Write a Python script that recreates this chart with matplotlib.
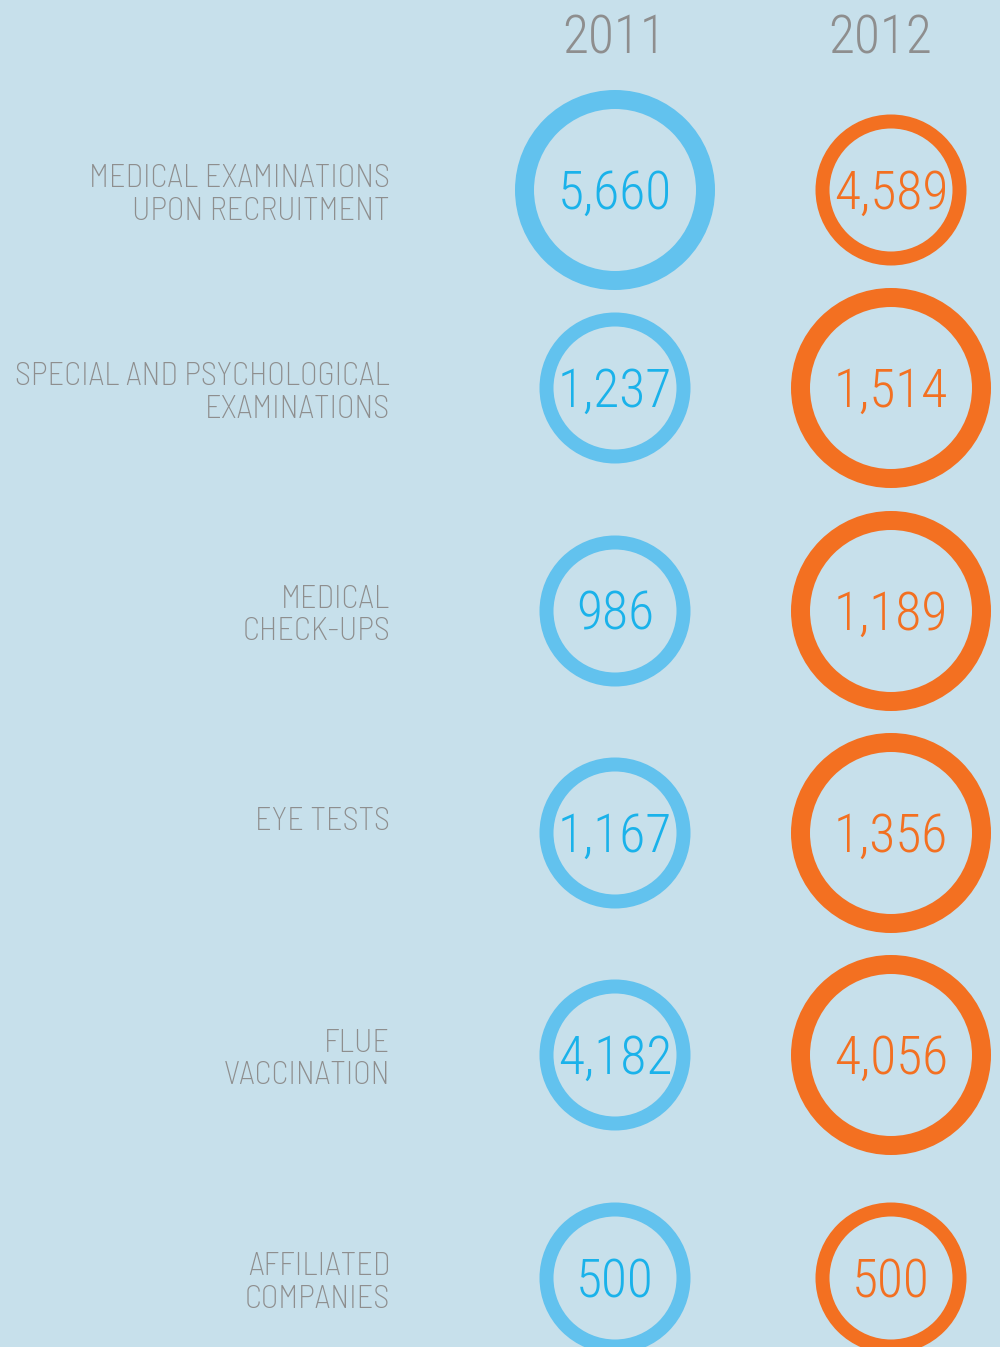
#!/usr/bin/env python3
import matplotlib
matplotlib.use('Agg')
from matplotlib import pyplot as plt
from matplotlib.patches import Circle

# number of cases per category, two years side by side
years = ['2011', '2012']
categories = [
    'MEDICAL EXAMINATIONS\nUPON RECRUITMENT',
    'SPECIAL AND PSYCHOLOGICAL\nEXAMINATIONS',
    'MEDICAL\nCHECK-UPS',
    'EYE TESTS',
    'FLUE\nVACCINATION',
    'AFFILIATED\nCOMPANIES',
]
values_2011 = [5660, 1237, 986, 1167, 4182, 500]
values_2012 = [4589, 1514, 1189, 1356, 4056, 500]
# which circles are drawn in the large size
big_2011 = [True, False, False, False, False, False]
big_2012 = [False, True, True, True, True, False]

BG = '#c7e0eb'
GREY = '#8e8e8e'
RING = {'2011': '#62c2ee', '2012': '#f37021'}
NUM = {'2011': '#1ab2ea', '2012': '#f37021'}
LABEL_FONT = 'Barlow Semi Condensed'
NUM_FONT = 'Roboto Condensed'

fig = plt.figure(figsize=(10, 13.47), dpi=100, facecolor=BG)
ax = fig.add_axes([0, 0, 1, 1])
ax.set_facecolor(BG)
ax.set_xlim(0, 1000)
ax.set_ylim(1347, 0)
ax.set_aspect('equal')
ax.axis('off')

col_x = {'2011': 615, '2012': 891}
year_x = {'2011': 614, '2012': 880}
row_y = [190, 388, 611, 833, 1055, 1278]

for yr in years:
    ax.text(year_x[yr], 53, yr, ha='center', va='baseline', color=GREY,
            family=NUM_FONT, weight=300, fontsize=38.5)

for i, cat in enumerate(categories):
    cy = row_y[i]
    for k, line in enumerate(cat.split('\n')):
        ax.text(390, cy - 3 + 32.5 * k, line, ha='right', va='baseline',
                color=GREY, family=LABEL_FONT, weight=275, fontsize=23.4)

    for yr, vals, big in (('2011', values_2011, big_2011),
                          ('2012', values_2012, big_2012)):
        cx = col_x[yr]
        if big[i]:
            r, lw = 90.5, 19
        else:
            r, lw = 68.5, 14
        ax.add_patch(Circle((cx, cy), r, fill=False, edgecolor=RING[yr],
                            linewidth=lw * 72 / 100))
        ax.text(cx, cy + 19, f'{vals[i]:,}', ha='center', va='baseline',
                color=NUM[yr], family=NUM_FONT, weight=300, fontsize=38.5)

fig.savefig('out.png', dpi=100, facecolor=BG)
